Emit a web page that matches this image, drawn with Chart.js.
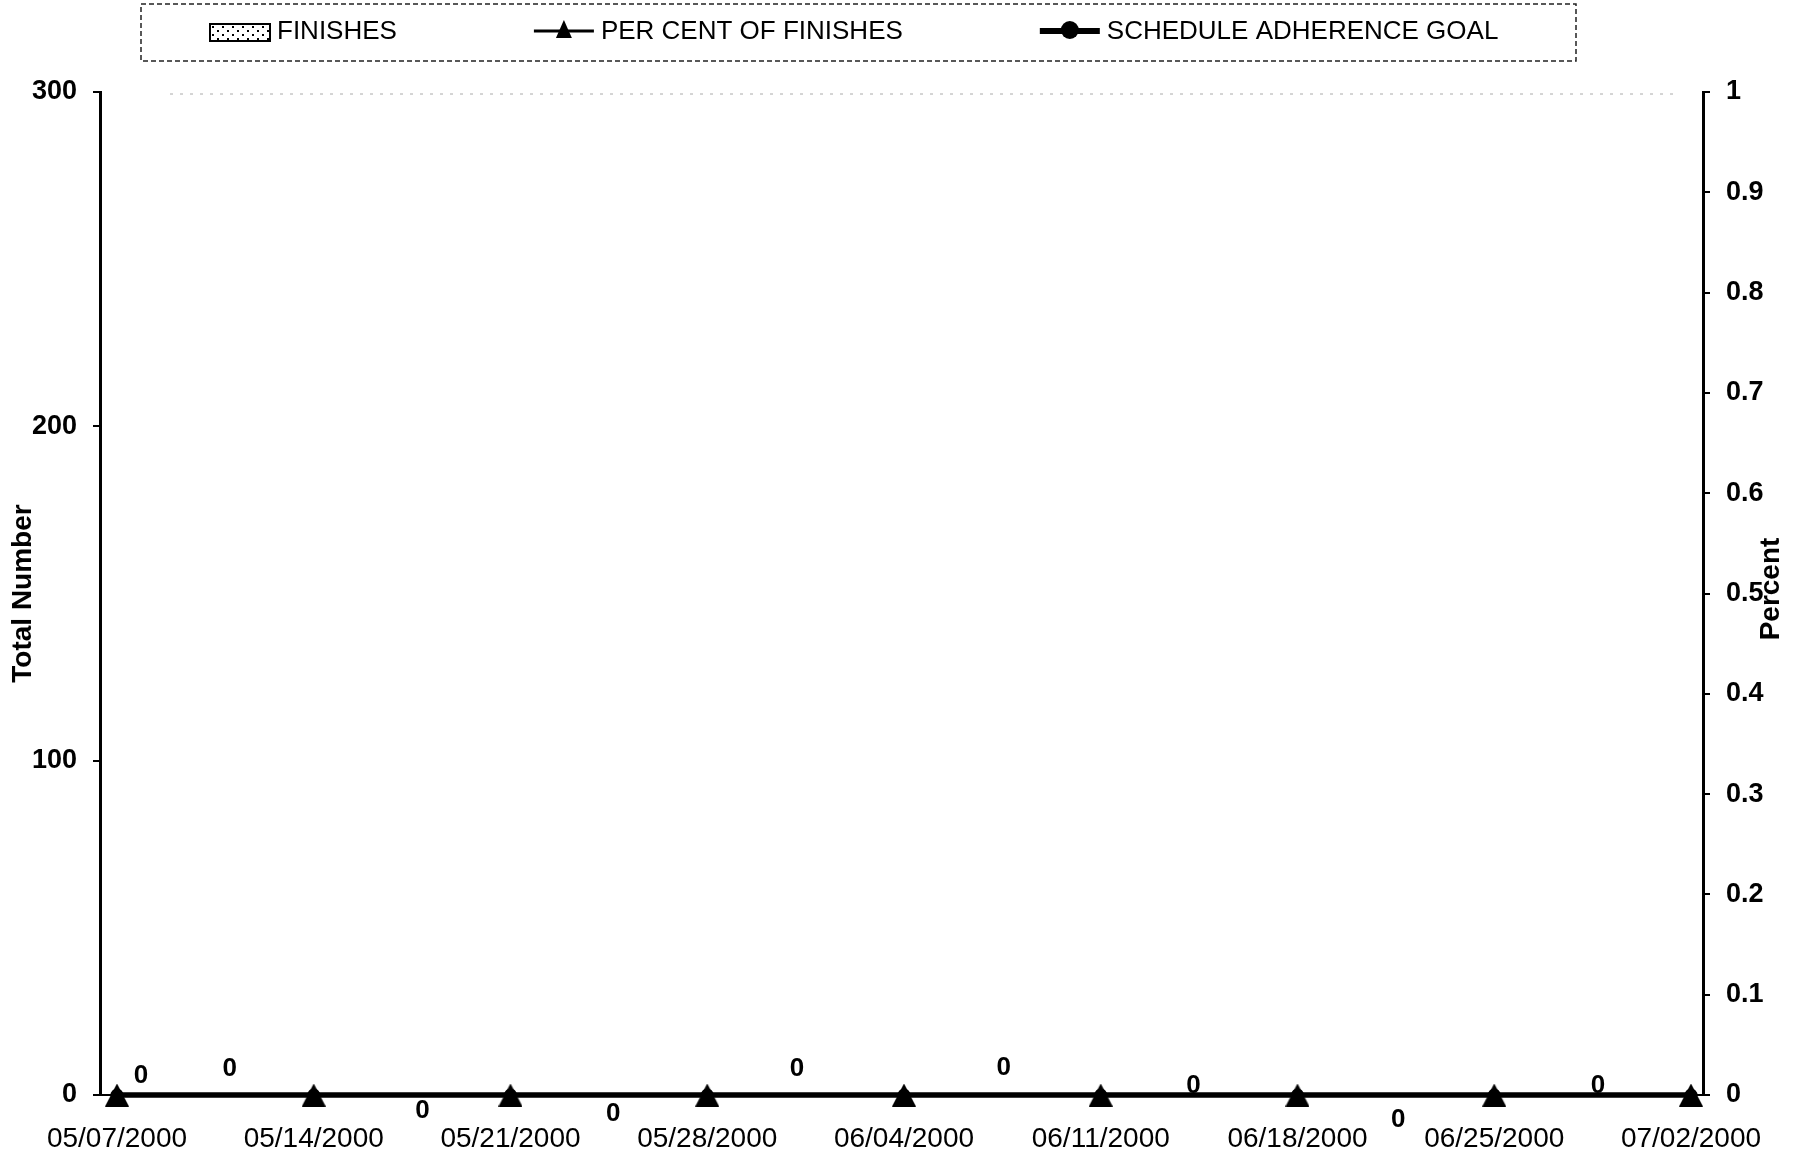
<!DOCTYPE html>
<html>
<head>
<meta charset="utf-8">
<script src="https://cdn.jsdelivr.net/npm/chart.js@4.4.1/dist/chart.umd.min.js"></script>
<style>
  html, body { margin: 0; padding: 0; background: #fff; }
  #wrap { width: 1794px; height: 1158px; }
</style>
</head>
<body>
<div id="wrap"><canvas id="chart" width="1794" height="1158"></canvas></div>
<script>
// Weekly reporting periods
const weeks = ['05/07/2000', '05/14/2000', '05/21/2000', '05/28/2000', '06/04/2000',
               '06/11/2000', '06/18/2000', '06/25/2000', '07/02/2000'];
// Series values
const finishes          = [0, 0, 0, 0, 0, 0, 0, 0, 0];
const percentOfFinishes = [0, 0, 0, 0, 0, 0, 0, 0, 0];
const adherenceGoal     = [0, 0, 0, 0, 0, 0, 0, 0, 0];
// Axis tick values
const countTicks   = [0, 100, 200, 300];
const percentTicks = [0, 0.1, 0.2, 0.3, 0.4, 0.5, 0.6, 0.7, 0.8, 0.9, 1];

const FONT = "'Liberation Sans', Arial, Helvetica, sans-serif";

// Dotted fill used for the FINISHES bars and their legend swatch
function dottedPattern() {
  const c = document.createElement('canvas');
  c.width = 10; c.height = 8;
  const g = c.getContext('2d');
  g.fillStyle = '#fff';
  g.fillRect(0, 0, 10, 8);
  g.fillStyle = '#000';
  g.fillRect(2, 2, 2, 2);
  g.fillRect(7, 6, 2, 2);
  return g.createPattern(c, 'repeat');
}
const dotFill = dottedPattern();

// Solid triangle marker centred on its point
function triangleMarker(w, h) {
  const c = document.createElement('canvas');
  c.width = w; c.height = h;
  const g = c.getContext('2d');
  g.fillStyle = '#000';
  g.beginPath();
  g.moveTo(w / 2, 0);
  g.lineTo(w, h);
  g.lineTo(0, h);
  g.closePath();
  g.fill();
  return c;
}
const bigTriangle = triangleMarker(24, 23);

const toXY = arr => arr.map((v, i) => ({ x: i, y: v }));

// Value labels for the FINISHES bars (pixel offsets from each bar's base)
const valueLabels = {
  id: 'valueLabels',
  afterDatasetsDraw(chart, args, opts) {
    const meta = chart.getDatasetMeta(0);
    const ctx = chart.ctx;
    ctx.save();
    ctx.font = 'bold 26px ' + FONT;
    ctx.fillStyle = '#000';
    ctx.textAlign = 'center';
    ctx.textBaseline = 'middle';
    meta.data.forEach((el, i) => {
      const off = opts.offsets[i] || [0, -20];
      ctx.fillText(String(finishes[i]), el.x + off[0], el.y + off[1]);
    });
    ctx.restore();
  }
};

// Boxed legend across the top
const boxLegend = {
  id: 'boxLegend',
  afterDraw(chart) {
    const ctx = chart.ctx;
    const ds = chart.data.datasets;
    ctx.save();
    ctx.strokeStyle = '#222';
    ctx.lineWidth = 1.5;
    ctx.setLineDash([5, 3]);
    ctx.strokeRect(141, 4, 1435, 57);
    ctx.setLineDash([]);

    ctx.font = '26px ' + FONT;
    ctx.textBaseline = 'middle';
    let x = 210;
    const cy = 32;
    ds.forEach((d, i) => {
      const sw = 60;
      if (i === 0) {
        ctx.fillStyle = dotFill;
        ctx.fillRect(x, cy - 8, sw, 17);
        ctx.strokeStyle = '#000';
        ctx.lineWidth = 2;
        ctx.strokeRect(x, cy - 8, sw, 17);
      } else {
        ctx.strokeStyle = '#000';
        ctx.lineWidth = i === 1 ? 3 : 6;
        ctx.beginPath();
        ctx.moveTo(x, cy - 1);
        ctx.lineTo(x + sw, cy - 1);
        ctx.stroke();
        ctx.fillStyle = '#000';
        const mx = x + sw / 2;
        if (i === 1) {
          ctx.beginPath();
          ctx.moveTo(mx, cy - 12);
          ctx.lineTo(mx + 8, cy + 6);
          ctx.lineTo(mx - 8, cy + 6);
          ctx.closePath();
          ctx.fill();
        } else {
          ctx.beginPath();
          ctx.arc(mx, cy - 2, 9, 0, Math.PI * 2);
          ctx.fill();
        }
      }
      ctx.fillStyle = '#000';
      const tx = x + sw + 7;
      ctx.fillText(d.label, tx, cy);
      x = tx + ctx.measureText(d.label).width + 137;
    });
    ctx.restore();
  }
};

// Right-hand axis title, reading bottom to top
const rightTitle = {
  id: 'rightTitle',
  afterDraw(chart, args, opts) {
    const ctx = chart.ctx;
    ctx.save();
    ctx.translate(1771, 589);
    ctx.rotate(-Math.PI / 2);
    ctx.font = 'bold 28px ' + FONT;
    ctx.fillStyle = '#000';
    ctx.textAlign = 'center';
    ctx.textBaseline = 'middle';
    ctx.fillText(opts.text, 0, 0);
    ctx.restore();
  }
};

// Faint dotted edge along the top of the plot area
const topEdge = {
  id: 'topEdge',
  beforeDatasetsDraw(chart) {
    const { ctx, chartArea } = chart;
    ctx.save();
    ctx.strokeStyle = '#aaa';
    ctx.lineWidth = 1;
    ctx.setLineDash([3, 7]);
    ctx.beginPath();
    ctx.moveTo(chartArea.left + 70, chartArea.top + 2);
    ctx.lineTo(chartArea.right - 30, chartArea.top + 2);
    ctx.stroke();
    ctx.restore();
  }
};

new Chart(document.getElementById('chart'), {
  data: {
    datasets: [
      {
        type: 'bar',
        label: 'FINISHES',
        data: toXY(finishes),
        xAxisID: 'x',
        yAxisID: 'y',
        backgroundColor: dotFill,
        borderColor: '#000',
        borderWidth: 2,
        barThickness: 60,
        order: 3
      },
      {
        type: 'line',
        label: 'PER CENT OF FINISHES',
        data: toXY(percentOfFinishes),
        xAxisID: 'x',
        yAxisID: 'y1',
        borderColor: '#000',
        backgroundColor: '#000',
        borderWidth: 5,
        pointStyle: bigTriangle,
        pointRadius: 12,
        tension: 0,
        clip: false,
        order: 1
      },
      {
        type: 'line',
        label: 'SCHEDULE ADHERENCE GOAL',
        data: toXY(adherenceGoal),
        xAxisID: 'x',
        yAxisID: 'y1',
        borderColor: '#000',
        backgroundColor: '#000',
        borderWidth: 5,
        pointStyle: 'circle',
        pointRadius: 4,
        pointBackgroundColor: '#000',
        pointBorderColor: '#000',
        tension: 0,
        clip: false,
        order: 2
      }
    ]
  },
  options: {
    responsive: false,
    animation: false,
    devicePixelRatio: 1,
    layout: { padding: { top: 92, bottom: 0, left: 0, right: 0 } },
    plugins: {
      legend: { display: false },
      tooltip: { enabled: false },
      valueLabels: {
        offsets: [[24, -19], [-84, -26], [-88, 16], [-94, 19], [-107, -26],
                  [-97, -27], [-104, -9], [-96, 25], [-93, -9]]
      },
      rightTitle: { text: 'Percent' }
    },
    scales: {
      x: {
        type: 'linear',
        position: 'bottom',
        offset: false,
        min: -0.0864,
        max: 8.061,
        afterBuildTicks: s => { s.ticks = weeks.map((_, i) => ({ value: i })); },
        afterFit: s => { s.height = 63; },
        ticks: {
          autoSkip: false,
          maxRotation: 0,
          minRotation: 0,
          padding: 20,
          color: '#000',
          font: { family: FONT, size: 28 },
          callback: v => weeks[v]
        },
        grid: { offset: false, drawOnChartArea: false, drawTicks: true, tickLength: 7, color: '#000', lineWidth: 2 },
        border: { display: true, color: '#000', width: 2 }
      },
      y: {
        type: 'linear',
        position: 'left',
        min: 0,
        max: 300,
        afterBuildTicks: s => { s.ticks = countTicks.map(v => ({ value: v })); },
        afterFit: s => { s.width = 100; },
        ticks: { color: '#000', padding: 16, font: { family: FONT, size: 27, weight: 'bold' } },
        grid: { drawOnChartArea: false, drawTicks: true, tickLength: 7, color: '#000', lineWidth: 2 },
        border: { display: true, color: '#000', width: 3 },
        title: {
          display: true,
          text: 'Total Number',
          color: '#000',
          font: { family: FONT, size: 28, weight: 'bold' },
          padding: { top: 6, bottom: 0 }
        }
      },
      y1: {
        type: 'linear',
        position: 'right',
        min: 0,
        max: 1,
        afterBuildTicks: s => { s.ticks = percentTicks.map(v => ({ value: v })); },
        afterFit: s => { s.width = 91; },
        ticks: {
          color: '#000',
          padding: 16,
          font: { family: FONT, size: 27, weight: 'bold' },
          callback: v => String(v)
        },
        grid: { drawOnChartArea: false, drawTicks: true, tickLength: 7, color: '#000', lineWidth: 2 },
        border: { display: true, color: '#000', width: 3 }
      }
    }
  },
  plugins: [valueLabels, boxLegend, rightTitle, topEdge]
});
</script>
</body>
</html>
